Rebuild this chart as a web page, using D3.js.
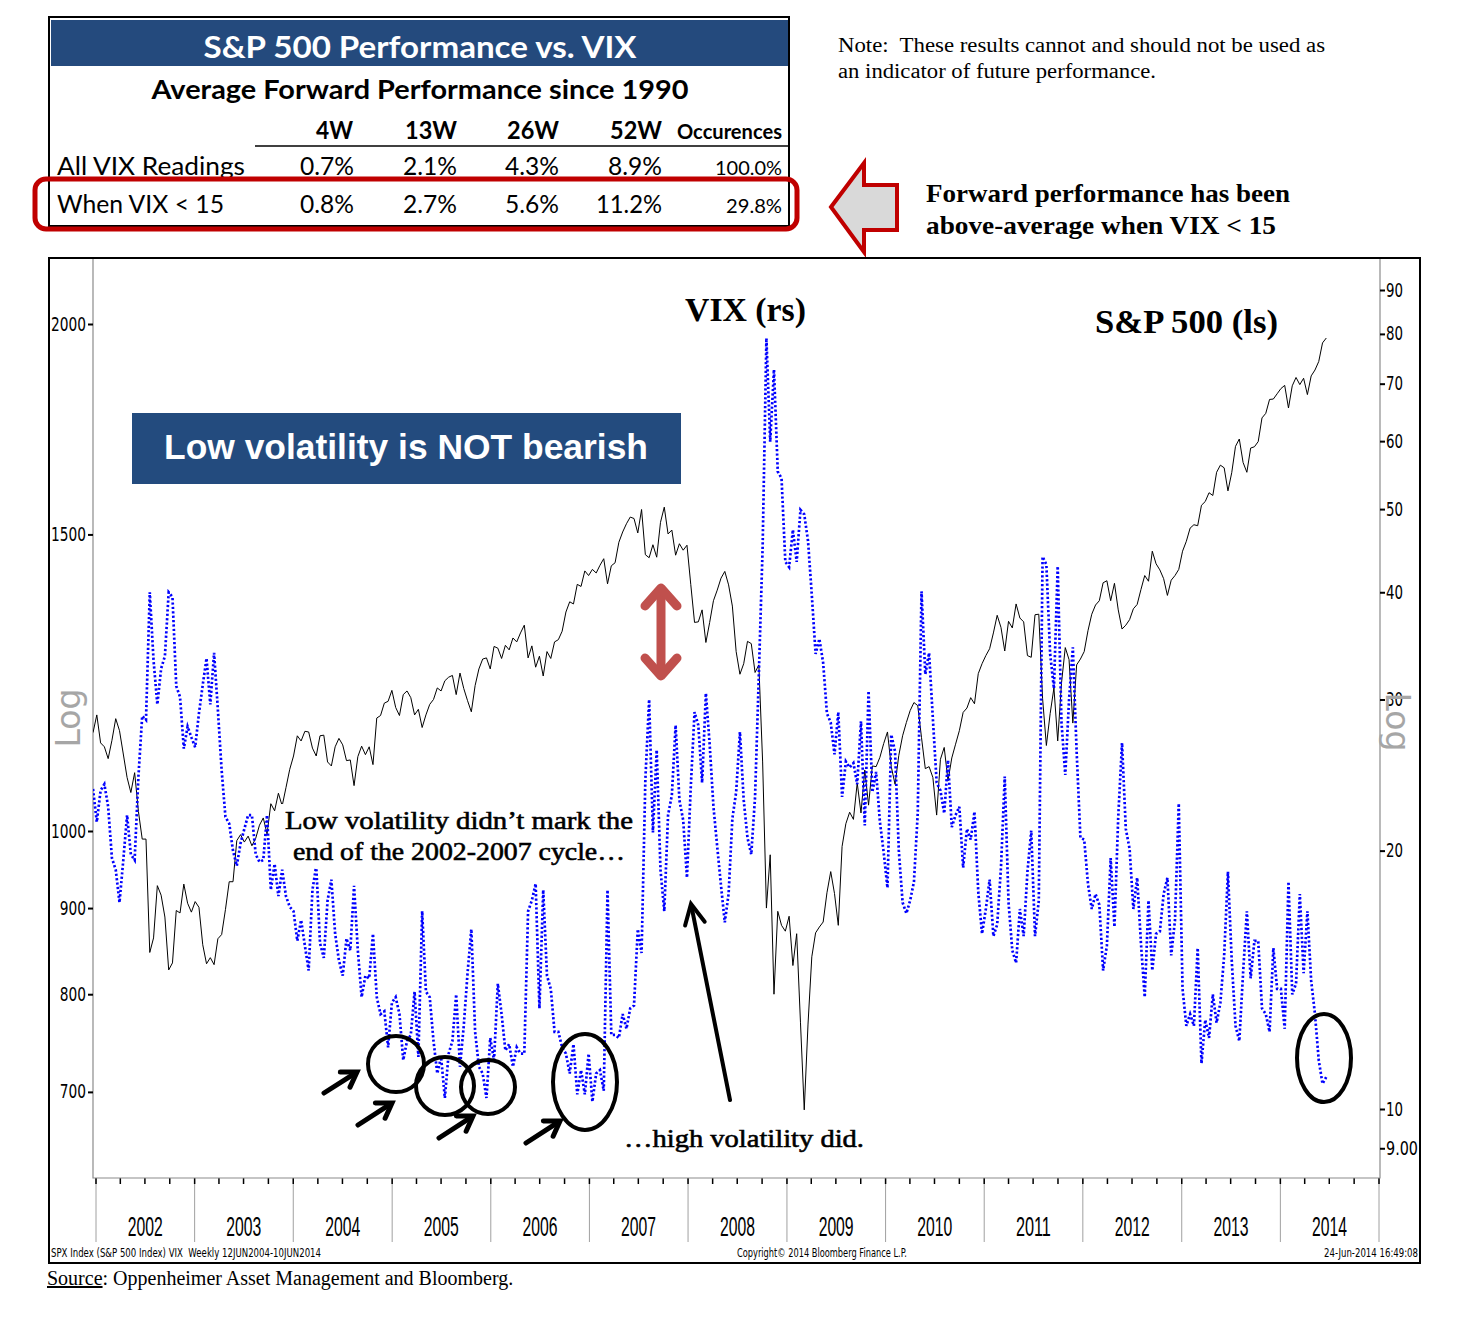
<!DOCTYPE html>
<html><head><meta charset="utf-8">
<script src="https://cdn.jsdelivr.net/npm/d3@7"></script>
<style>body{margin:0;background:#fff}svg{display:block}</style>
</head><body>
<svg id="c" width="1462" height="1332"></svg>
<script>
// ---------- DATA ----------
const startDate = new Date(2001, 11, 21);   // first weekly observation shown
const stepDays = 14;                         // bi-weekly sampling
const spx = [
1144,1172,1128,1122,1104,1132,1166,1147,1111,1076,
1054,1083,1027,989,989,847,864,928,916,889,
827,835,897,894,930,906,895,908,901,856,
834,841,833,863,868,898,933,933,987,995,
985,993,980,990,1008,1018,996,1038,1028,1053,
1035,1061,1088,1108,1139,1131,1146,1145,1120,1108,
1139,1140,1099,1093,1122,1135,1125,1101,1102,1064,
1107,1123,1110,1122,1095,1167,1171,1191,1194,1212,
1184,1171,1205,1211,1200,1172,1181,1152,1172,1189,
1197,1216,1211,1228,1234,1237,1205,1241,1215,1195,
1177,1220,1248,1265,1267,1248,1287,1284,1266,1289,
1281,1302,1295,1311,1325,1267,1288,1251,1270,1236,
1278,1266,1295,1299,1314,1349,1368,1364,1401,1397,
1427,1418,1430,1423,1438,1451,1402,1437,1443,1484,
1505,1522,1536,1533,1503,1552,1459,1453,1479,1454,
1525,1557,1501,1509,1458,1481,1468,1478,1401,1330,
1331,1353,1294,1330,1370,1390,1413,1426,1400,1360,
1278,1239,1257,1296,1292,1242,1255,1099,900,968,
800,896,879,872,890,832,869,770,683,768,
842,870,877,883,919,946,918,879,979,1010,
1026,1016,1068,1025,1087,1036,1093,1092,1106,1127,
1145,1092,1066,1109,1139,1160,1179,1192,1187,1136,
1089,1092,1076,1022,1103,1121,1071,1105,1126,1147,
1176,1183,1200,1190,1240,1257,1271,1283,1311,1343,
1321,1279,1332,1320,1364,1338,1331,1271,1268,1344,
1345,1199,1124,1174,1216,1131,1224,1285,1264,1159,
1255,1265,1278,1315,1345,1362,1370,1404,1408,1370,
1403,1353,1318,1325,1335,1355,1363,1391,1418,1407,
1466,1441,1429,1412,1380,1409,1418,1430,1466,1486,
1513,1520,1518,1561,1569,1588,1582,1633,1649,1643,
1592,1632,1692,1709,1655,1633,1688,1691,1703,1759,
1770,1804,1805,1818,1831,1839,1783,1838,1859,1841,
1857,1816,1863,1878,1900,1949,1962
];
const vix = [
23.6,21.6,23.5,23.9,22.5,19.6,19.0,17.4,19.5,22.0,
19.8,19.5,24.4,28.7,28.4,40.0,33.3,29.6,32.6,33.7,
40.0,39.5,31.1,30.2,26.3,27.9,27.1,26.4,28.9,31.2,
33.5,29.6,34.0,29.2,24.8,21.9,21.5,20.0,19.2,20.4,
21.2,22.0,22.0,19.8,19.4,19.5,22.0,18.0,19.3,17.7,
19.0,17.7,17.2,17.0,15.7,16.6,15.5,14.5,18.0,19.2,
15.6,15.0,17.5,18.5,16.0,14.9,14.3,15.8,15.3,18.2,
15.3,13.5,14.3,14.2,16.0,13.5,12.9,13.0,11.8,13.3,
13.5,12.9,11.4,12.0,12.2,13.7,11.5,17.0,13.7,13.5,
12.0,11.0,11.5,10.3,11.6,12.0,13.6,11.2,12.5,14.4,
16.2,12.3,11.2,11.0,10.3,12.1,11.4,14.0,12.9,11.7,
11.9,11.2,11.8,11.6,11.6,17.0,17.5,18.3,13.1,18.0,
14.3,13.8,12.3,12.3,11.8,11.6,11.0,11.9,10.4,11.1,
10.4,11.6,10.2,11.0,11.1,10.5,18.0,12.2,12.2,12.1,
12.9,12.4,13.1,13.2,16.2,15.2,24.2,30.0,21.0,26.2,
19.0,17.0,22.0,23.2,28.0,22.9,21.7,18.6,23.7,29.0,
28.0,24.0,30.5,26.6,22.5,20.2,18.2,16.5,17.8,21.8,
23.4,27.5,22.9,20.7,19.8,23.1,32.1,45.1,79.1,59.9,
72.7,55.3,54.3,43.4,42.8,47.3,43.4,49.9,49.3,45.9,
39.7,33.9,35.3,33.1,28.9,28.2,25.9,29.0,23.1,25.4,
25.0,25.3,23.9,28.3,21.4,30.7,23.4,24.7,21.6,19.9,
18.1,27.3,26.1,20.0,17.4,16.9,17.5,18.4,22.1,40.1,
32.1,34.0,28.5,24.0,23.5,22.1,25.5,21.3,22.0,22.5,
19.1,21.2,20.6,22.2,17.9,16.0,17.1,18.5,15.9,16.4,
19.1,24.4,17.4,15.3,14.8,17.1,15.9,18.9,21.1,15.9,
17.5,44.0,43.1,33.9,30.9,42.9,28.2,24.5,30.0,34.5,
26.1,20.7,20.6,18.3,17.1,17.8,17.3,14.5,15.5,19.6,
16.3,21.9,26.7,21.2,20.1,17.1,18.6,15.6,13.5,17.5,
14.5,16.0,16.1,17.8,18.6,15.1,16.6,22.7,13.8,12.5,
12.9,12.5,15.4,11.3,12.7,12.1,13.6,12.6,13.3,15.1,
18.9,14.9,12.5,12.0,14.4,17.0,14.2,15.7,15.7,13.1,
12.9,12.3,15.4,13.8,13.8,12.4,18.4,13.6,14.0,17.8,
14.4,17.0,14.1,12.9,11.4,10.7,10.9
];
const spxTicks = [700, 800, 900, 1000, 1500, 2000];
const vixTicks = [9, 10, 20, 30, 40, 50, 60, 70, 80, 90];
const yearLabels = ["2002","2003","2004","2005","2006","2007","2008","2009","2010","2011","2012","2013","2014"];
const tableCols = ["4W", "13W", "26W", "52W", "Occurences"];
const tableRows = ["All VIX Readings", "When VIX < 15"];
const allVixVals = ["0.7%", "2.1%", "4.3%", "8.9%", "100.0%"];
const lowVixVals = ["0.8%", "2.7%", "5.6%", "11.2%", "29.8%"];

// ---------- HELPERS ----------
const svg = d3.select("#c");
function T(sel, s, x, y, o = {}) {
  const t = sel.append("text").attr("x", x).attr("y", y).text(s)
    .attr("font-family", o.ff || "Lato").attr("font-size", o.fs || 20)
    .attr("font-weight", o.fw || "normal").attr("fill", o.fill || "#000")
    .attr("text-anchor", o.anchor || "start");
  if (o.w) t.attr("textLength", o.w).attr("lengthAdjust", "spacingAndGlyphs");
  if (o.tr) t.attr("transform", o.tr);
  if (o.stroke) t.attr("stroke", o.stroke).attr("stroke-width", o.sw || 0.5);
  return t;
}
const SERIF = "'Liberation Serif','Times New Roman',serif";
const SANS = "'Liberation Sans',Arial,sans-serif";
const TAH = "'DejaVu Sans',Verdana,sans-serif";

// ---------- TABLE ----------
svg.append("rect").attr("x", 51).attr("y", 20).attr("width", 738).attr("height", 46).attr("fill", "#244A7D");
svg.append("rect").attr("x", 49).attr("y", 17).attr("width", 740).attr("height", 209)
  .attr("fill", "none").attr("stroke", "#000").attr("stroke-width", 2);
T(svg, "S&P 500 Performance vs. VIX", 420, 58, {fs: 31, fw: "bold", fill: "#fff", anchor: "middle", w: 433});
T(svg, "Average Forward Performance since 1990", 420, 99, {fs: 27, fw: "bold", anchor: "middle", w: 537});
const colRight = [353, 457, 559, 662, 782];
const colW = [37, 52, 52, 52, 105];
tableCols.forEach((c, i) => T(svg, c, colRight[i], 139, {fs: i === 4 ? 20 : 25, fw: "bold", anchor: "end", w: colW[i]}));
svg.append("line").attr("x1", 255).attr("x2", 789).attr("y1", 146).attr("y2", 146).attr("stroke", "#000").attr("stroke-width", 1.5);
T(svg, tableRows[0], 57, 175, {fs: 25, w: 188});
T(svg, tableRows[1], 57, 213, {fs: 25, w: 167});
const valRight = [354, 457, 559, 662, 782];
allVixVals.forEach((v, i) => T(svg, v, valRight[i], 175, {fs: i === 4 ? 19 : 25, anchor: "end", w: i === 4 ? 67 : 54}));
lowVixVals.forEach((v, i) => T(svg, v, valRight[i], 213, {fs: i === 4 ? 19 : 25, anchor: "end", w: i === 4 ? 56 : (v.length === 5 ? 66 : 54)}));
svg.append("rect").attr("x", 35).attr("y", 179).attr("width", 762).attr("height", 50).attr("rx", 11)
  .attr("fill", "none").attr("stroke", "#C00000").attr("stroke-width", 5);

// ---------- NOTE + ARROW ----------
T(svg, "Note:\u00A0 These results cannot and should not be used as", 838, 52, {ff: SERIF, fs: 20, w: 487});
T(svg, "an indicator of future performance.", 838, 78, {ff: SERIF, fs: 20, w: 318});
svg.append("polygon").attr("points", "831,207 864,163 864,185 897,185 897,230 864,230 864,252")
  .attr("fill", "#D9D9D9").attr("stroke", "#C00000").attr("stroke-width", 4);
T(svg, "Forward performance has been", 926, 202, {ff: SERIF, fs: 26, fw: "bold", w: 364});
T(svg, "above-average when VIX < 15", 926, 234, {ff: SERIF, fs: 26, fw: "bold", w: 350});

// ---------- CHART ----------
const X0 = 93, X1 = 1380, Y0 = 258, Y1 = 1178;
const x = d3.scaleTime().domain([new Date(2002, 0, 1), new Date(2015, 0, 1)]).range([96, 1379]);
const yL = d3.scaleLog().domain([1000, 2000]).range([831, 324]);
const yR = d3.scaleLog().domain([10, 90]).range([1109, 290]);
const dateAt = i => d3.timeDay.offset(startDate, i * stepDays);

svg.append("clipPath").attr("id", "plot").append("rect")
  .attr("x", X0).attr("y", Y0).attr("width", X1 - X0).attr("height", Y1 - Y0);

// year separators & quarterly ticks
const yearStarts = yearLabels.map(y => new Date(+y, 0, 1)).concat([new Date(2015, 0, 1)]);
svg.append("g").selectAll("line").data(yearStarts).join("line")
  .attr("x1", d => x(d)).attr("x2", d => x(d)).attr("y1", Y1).attr("y2", 1242)
  .attr("stroke", "#A0A0A0").attr("stroke-width", 1);
const quarters = d3.timeMonth.every(3).range(new Date(2002, 0, 1), new Date(2015, 0, 2));
svg.append("g").selectAll("line").data(quarters).join("line")
  .attr("x1", d => x(d)).attr("x2", d => x(d)).attr("y1", Y1).attr("y2", Y1 + 6)
  .attr("stroke", "#000").attr("stroke-width", 1.5);
yearLabels.forEach(y => T(svg, y, x(new Date(+y, 6, 2)), 1236, {ff: SANS, fs: 28, anchor: "middle", w: 35}));

// plot frame (grey)
svg.append("path").attr("d", `M${X0},${Y0}V${Y1}H${X1}V${Y0}`).attr("fill", "none")
  .attr("stroke", "#8C8C8C").attr("stroke-width", 1.2);

// left axis
const gl = svg.append("g").attr("transform", `translate(${X0},0)`)
  .call(d3.axisLeft(yL).tickValues(spxTicks).tickFormat(d3.format("d")).tickSize(5).tickPadding(2));
gl.select(".domain").remove();
gl.selectAll(".tick line").attr("stroke", "#000").attr("stroke-width", 2);
gl.selectAll(".tick text").attr("font-family", TAH).attr("font-size", 19).attr("fill", "#000")
  .attr("textLength", d => String(d).length * 8.75).attr("lengthAdjust", "spacingAndGlyphs");

// right axis
const gr = svg.append("g").attr("transform", `translate(${X1},0)`)
  .call(d3.axisRight(yR).tickValues(vixTicks).tickFormat(d => d === 9 ? "9.00" : String(d)).tickSize(5).tickPadding(1));
gr.select(".domain").remove();
gr.selectAll(".tick line").attr("stroke", "#000").attr("stroke-width", 2);
gr.selectAll(".tick text").attr("font-family", TAH).attr("font-size", 19).attr("fill", "#000")
  .attr("textLength", d => d === 9 ? 32 : 17).attr("lengthAdjust", "spacingAndGlyphs");

// Log labels
T(svg, "Log", 0, 0, {ff: TAH, fs: 33, fill: "#A6A6A6", anchor: "middle", tr: "translate(80,718) rotate(-90)"});
T(svg, "Log", 0, 0, {ff: TAH, fs: 33, fill: "#A6A6A6", anchor: "middle", tr: "translate(1386,722) rotate(90)"});

// series
const plot = svg.append("g").attr("clip-path", "url(#plot)");
plot.append("path").datum(spx)
  .attr("d", d3.line().x((d, i) => x(dateAt(i))).y(d => yL(d)))
  .attr("fill", "none").attr("stroke", "#000").attr("stroke-width", 1);
plot.append("path").datum(vix)
  .attr("d", d3.line().x((d, i) => x(dateAt(i))).y(d => yR(d)))
  .attr("fill", "none").attr("stroke", "#0000FF").attr("stroke-width", 2.7)
  .attr("stroke-dasharray", "2.2,2.2");

// series labels
T(svg, "VIX (rs)", 685, 321, {ff: SERIF, fs: 34, fw: "bold", w: 121});
T(svg, "S&P 500 (ls)", 1095, 333, {ff: SERIF, fs: 34, fw: "bold", w: 183});

// title box
svg.append("rect").attr("x", 132).attr("y", 413).attr("width", 549).attr("height", 71).attr("fill", "#234B7E");
T(svg, "Low volatility is NOT bearish", 406, 459, {ff: SANS, fs: 35, fw: "bold", fill: "#fff", anchor: "middle", w: 484});

// annotation text
svg.append("rect").attr("x", 279).attr("y", 804).attr("width", 360).attr("height", 64).attr("fill", "#fff");
T(svg, "Low volatility didn\u2019t mark the", 459, 829, {ff: SERIF, fs: 26, anchor: "middle", w: 348, stroke: "#000", sw: 0.6});
T(svg, "end of the 2002-2007 cycle\u2026", 459, 860, {ff: SERIF, fs: 26, anchor: "middle", w: 332, stroke: "#000", sw: 0.6});
T(svg, "\u2026high volatility did.", 624, 1147, {ff: SERIF, fs: 26, w: 240, stroke: "#000", sw: 0.6});

// red double arrow
const ra = svg.append("g").attr("stroke", "#C0504D").attr("stroke-width", 9).attr("fill", "none")
  .attr("stroke-linecap", "round").attr("stroke-linejoin", "round");
ra.append("line").attr("x1", 661).attr("x2", 661).attr("y1", 592).attr("y2", 672);
ra.append("polyline").attr("points", "645,606 661,588 677,606");
ra.append("polyline").attr("points", "645,658 661,676 677,658");

// black arrows
function arrow(x1, y1, x2, y2, w, h, hw) {
  const dx = x2 - x1, dy = y2 - y1, L = Math.hypot(dx, dy), ux = dx / L, uy = dy / L, nx = -uy, ny = ux;
  const g = svg.append("g").attr("stroke", "#000").attr("stroke-width", w).attr("fill", "none")
    .attr("stroke-linecap", "round").attr("stroke-linejoin", "miter");
  g.append("line").attr("x1", x1).attr("y1", y1).attr("x2", x2 - ux * 2).attr("y2", y2 - uy * 2);
  g.append("polyline").attr("points",
    `${x2 - ux * h + nx * hw},${y2 - uy * h + ny * hw} ${x2},${y2} ${x2 - ux * h - nx * hw},${y2 - uy * h - ny * hw}`);
}
arrow(730, 1100, 691, 904, 4, 20, 10);
arrow(324, 1093, 357, 1072, 5, 14, 9);
arrow(358, 1125, 392, 1103, 5, 14, 9);
arrow(439, 1138, 473, 1116, 5, 14, 9);
arrow(526, 1143, 560, 1121, 5, 14, 9);

// circles
const ells = [[396, 1064, 28, 28], [445, 1086, 29, 29], [488, 1087, 27, 27], [585, 1082, 32, 48], [1324, 1058, 27, 44]];
svg.append("g").selectAll("ellipse").data(ells).join("ellipse")
  .attr("cx", d => d[0]).attr("cy", d => d[1]).attr("rx", d => d[2]).attr("ry", d => d[3])
  .attr("fill", "none").attr("stroke", "#000").attr("stroke-width", 4);

// outer chart frame
svg.append("rect").attr("x", 49).attr("y", 258).attr("width", 1371).attr("height", 1005)
  .attr("fill", "none").attr("stroke", "#000").attr("stroke-width", 2);

// footer
T(svg, "SPX Index (S&P 500 Index) VIX\u00A0 Weekly 12JUN2004-10JUN2014", 51, 1257, {ff: TAH, fs: 12, w: 270});
T(svg, "Copyright\u00A9 2014 Bloomberg Finance L.P.", 737, 1257, {ff: TAH, fs: 12, w: 170});
T(svg, "24-Jun-2014 16:49:08", 1418, 1257, {ff: TAH, fs: 12, anchor: "end", w: 94});

const src = svg.append("text").attr("x", 47).attr("y", 1285).attr("font-family", SERIF).attr("font-size", 20);
src.append("tspan").attr("text-decoration", "underline").text("Source");
src.append("tspan").text(": Oppenheimer Asset Management and Bloomberg.");
</script>
</body></html>
